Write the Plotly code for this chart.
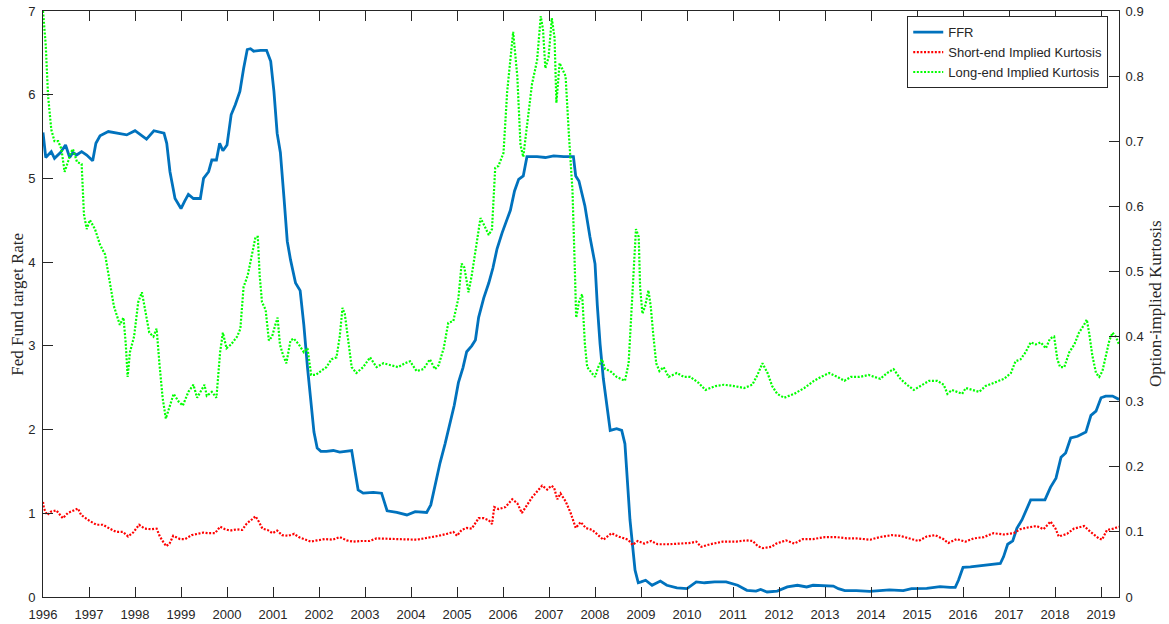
import plotly.graph_objects as go

# ---------------- data (decimal years, values) ----------------
ffr_t = [1996.00,1996.06,1996.18,1996.25,1996.38,1996.49,1996.58,1996.65,1996.73,1996.84,1996.95,1997.08,1997.15,1997.24,1997.42,1997.64,1997.82,1998.00,1998.25,1998.41,1998.63,1998.69,1998.76,1998.87,1999.00,1999.08,1999.16,1999.27,1999.42,1999.49,1999.60,1999.67,1999.77,1999.84,1999.91,2000.00,2000.09,2000.18,2000.28,2000.36,2000.44,2000.51,2000.58,2000.73,2000.86,2000.95,2001.02,2001.09,2001.16,2001.24,2001.31,2001.38,2001.49,2001.59,2001.67,2001.75,2001.82,2001.89,2001.96,2002.04,2002.16,2002.31,2002.45,2002.71,2002.78,2002.85,2002.96,2003.18,2003.36,2003.43,2003.48,2003.69,2003.91,2004.09,2004.34,2004.43,2004.52,2004.63,2004.74,2004.85,2004.94,2005.03,2005.13,2005.21,2005.32,2005.40,2005.47,2005.58,2005.69,2005.78,2005.87,2005.98,2006.09,2006.16,2006.25,2006.34,2006.44,2006.52,2006.74,2006.92,2007.10,2007.32,2007.53,2007.58,2007.65,2007.78,2007.89,2008.00,2008.05,2008.11,2008.18,2008.25,2008.33,2008.47,2008.58,2008.65,2008.71,2008.76,2008.87,2008.94,2009.00,2009.10,2009.24,2009.42,2009.56,2009.78,2010.00,2010.20,2010.38,2010.60,2010.85,2011.10,2011.30,2011.50,2011.60,2011.74,2011.96,2012.18,2012.40,2012.60,2012.74,2013.00,2013.18,2013.29,2013.43,2013.68,2013.97,2014.19,2014.40,2014.70,2014.88,2015.21,2015.50,2015.72,2015.83,2015.90,2016.00,2016.16,2016.45,2016.81,2016.88,2016.97,2017.08,2017.17,2017.28,2017.38,2017.47,2017.78,2017.90,2018.02,2018.13,2018.23,2018.34,2018.49,2018.67,2018.78,2018.89,2019.00,2019.10,2019.25,2019.39]
ffr_v = [5.55,5.25,5.32,5.24,5.31,5.40,5.25,5.31,5.28,5.32,5.28,5.21,5.42,5.51,5.56,5.54,5.52,5.57,5.47,5.57,5.54,5.42,5.08,4.76,4.64,4.73,4.81,4.76,4.76,5.00,5.08,5.22,5.22,5.42,5.33,5.40,5.76,5.88,6.04,6.31,6.54,6.55,6.52,6.53,6.53,6.40,6.04,5.54,5.31,4.76,4.25,4.03,3.75,3.66,3.25,2.74,2.33,1.97,1.78,1.74,1.74,1.75,1.73,1.75,1.51,1.28,1.24,1.25,1.24,1.12,1.03,1.01,0.98,1.02,1.01,1.10,1.33,1.60,1.83,2.10,2.29,2.56,2.74,2.93,3.00,3.07,3.34,3.57,3.75,3.93,4.16,4.35,4.53,4.62,4.85,4.99,5.03,5.26,5.26,5.25,5.27,5.26,5.26,5.03,4.97,4.67,4.30,3.98,3.48,3.02,2.61,2.29,1.99,2.01,1.99,1.83,1.33,0.92,0.32,0.17,0.18,0.20,0.14,0.19,0.14,0.11,0.10,0.18,0.17,0.18,0.18,0.14,0.08,0.07,0.09,0.06,0.07,0.12,0.14,0.12,0.14,0.135,0.13,0.10,0.076,0.076,0.068,0.076,0.084,0.076,0.10,0.104,0.123,0.115,0.115,0.20,0.354,0.36,0.38,0.40,0.48,0.63,0.67,0.82,0.92,1.05,1.16,1.16,1.31,1.42,1.67,1.72,1.90,1.92,1.97,2.17,2.22,2.38,2.40,2.40,2.36]

short_t = [1996.00,1996.02,1996.09,1996.17,1996.29,1996.36,1996.43,1996.54,1996.65,1996.76,1996.83,1997.01,1997.16,1997.30,1997.45,1997.59,1997.74,1997.85,1997.96,1998.09,1998.21,1998.36,1998.47,1998.54,1998.61,1998.68,1998.75,1998.83,1998.98,1999.09,1999.23,1999.38,1999.49,1999.60,1999.74,1999.85,1999.96,2000.07,2000.22,2000.33,2000.43,2000.54,2000.62,2000.69,2000.77,2000.88,2000.99,2001.09,2001.20,2001.33,2001.46,2001.56,2001.67,2001.82,2001.96,2002.13,2002.30,2002.45,2002.60,2002.74,2002.92,2003.10,2003.25,2003.46,2003.67,2004.12,2004.41,2004.60,2004.78,2004.92,2005.00,2005.10,2005.21,2005.32,2005.47,2005.58,2005.69,2005.76,2005.81,2005.90,2006.05,2006.20,2006.31,2006.41,2006.52,2006.63,2006.74,2006.85,2006.96,2007.05,2007.11,2007.18,2007.25,2007.36,2007.47,2007.58,2007.69,2007.80,2007.94,2008.07,2008.18,2008.36,2008.50,2008.72,2008.82,2008.93,2009.07,2009.22,2009.36,2009.58,2009.78,2010.07,2010.20,2010.31,2010.50,2010.78,2011.07,2011.28,2011.43,2011.54,2011.65,2011.83,2011.94,2012.15,2012.33,2012.52,2012.74,2013.00,2013.25,2013.47,2013.68,2013.98,2014.19,2014.45,2014.63,2014.85,2015.03,2015.21,2015.39,2015.57,2015.68,2015.86,2016.05,2016.23,2016.45,2016.66,2016.88,2017.10,2017.24,2017.42,2017.60,2017.75,2017.90,2018.01,2018.08,2018.26,2018.41,2018.63,2018.77,2018.95,2019.02,2019.13,2019.27,2019.39]
short_v = [0.146,0.136,0.126,0.131,0.133,0.127,0.121,0.129,0.133,0.136,0.126,0.117,0.111,0.111,0.105,0.100,0.100,0.093,0.099,0.111,0.105,0.104,0.105,0.093,0.085,0.078,0.082,0.094,0.089,0.089,0.095,0.097,0.099,0.098,0.098,0.108,0.104,0.102,0.104,0.103,0.113,0.119,0.124,0.116,0.105,0.103,0.098,0.102,0.095,0.094,0.097,0.092,0.089,0.085,0.087,0.089,0.088,0.092,0.087,0.085,0.086,0.086,0.090,0.090,0.089,0.088,0.091,0.094,0.097,0.100,0.094,0.103,0.106,0.105,0.121,0.121,0.118,0.112,0.138,0.135,0.138,0.150,0.144,0.129,0.141,0.153,0.162,0.171,0.165,0.171,0.168,0.150,0.159,0.147,0.129,0.106,0.115,0.106,0.103,0.095,0.088,0.098,0.093,0.088,0.080,0.086,0.082,0.086,0.081,0.081,0.082,0.083,0.085,0.077,0.081,0.085,0.085,0.087,0.086,0.078,0.075,0.077,0.082,0.087,0.082,0.089,0.089,0.092,0.092,0.090,0.090,0.088,0.092,0.095,0.094,0.090,0.086,0.093,0.095,0.089,0.083,0.089,0.085,0.090,0.092,0.098,0.096,0.098,0.104,0.107,0.109,0.104,0.116,0.105,0.093,0.097,0.105,0.109,0.100,0.090,0.088,0.103,0.105,0.108]

long_t = [1996.00,1996.06,1996.11,1996.18,1996.25,1996.33,1996.40,1996.47,1996.55,1996.60,1996.65,1996.74,1996.84,1996.89,1996.95,1997.02,1997.13,1997.24,1997.35,1997.45,1997.54,1997.67,1997.75,1997.80,1997.84,1997.89,1997.98,1998.07,1998.15,1998.22,1998.31,1998.40,1998.47,1998.53,1998.60,1998.67,1998.76,1998.84,1998.95,1999.04,1999.16,1999.27,1999.35,1999.45,1999.51,1999.56,1999.67,1999.77,1999.85,1999.91,1999.99,2000.09,2000.22,2000.29,2000.36,2000.45,2000.55,2000.62,2000.67,2000.71,2000.76,2000.84,2000.91,2000.98,2001.05,2001.10,2001.15,2001.22,2001.29,2001.38,2001.45,2001.56,2001.67,2001.75,2001.83,2001.93,2002.04,2002.16,2002.27,2002.38,2002.45,2002.51,2002.56,2002.63,2002.71,2002.81,2002.96,2003.11,2003.25,2003.40,2003.58,2003.72,2003.87,2003.98,2004.12,2004.27,2004.41,2004.52,2004.60,2004.71,2004.81,2004.92,2005.03,2005.10,2005.16,2005.25,2005.32,2005.43,2005.51,2005.59,2005.69,2005.76,2005.83,2005.90,2006.01,2006.09,2006.16,2006.22,2006.31,2006.38,2006.44,2006.49,2006.56,2006.63,2006.74,2006.82,2006.87,2006.92,2006.99,2007.06,2007.12,2007.16,2007.23,2007.30,2007.36,2007.43,2007.51,2007.56,2007.59,2007.65,2007.72,2007.78,2007.83,2007.93,2008.00,2008.07,2008.15,2008.22,2008.33,2008.47,2008.58,2008.65,2008.73,2008.78,2008.84,2008.89,2008.95,2008.98,2009.03,2009.09,2009.16,2009.21,2009.27,2009.33,2009.40,2009.49,2009.60,2009.78,2009.93,2010.07,2010.25,2010.40,2010.62,2010.80,2011.02,2011.24,2011.42,2011.53,2011.64,2011.75,2011.85,2011.96,2012.11,2012.33,2012.55,2012.76,2012.91,2013.09,2013.27,2013.42,2013.56,2013.75,2013.95,2014.09,2014.20,2014.35,2014.49,2014.64,2014.78,2014.93,2015.07,2015.26,2015.44,2015.58,2015.66,2015.76,2015.87,2015.98,2016.06,2016.20,2016.35,2016.49,2016.67,2016.89,2017.04,2017.14,2017.25,2017.36,2017.47,2017.58,2017.69,2017.80,2017.89,2017.98,2018.05,2018.11,2018.20,2018.31,2018.42,2018.52,2018.63,2018.69,2018.74,2018.81,2018.89,2018.96,2019.03,2019.11,2019.18,2019.25,2019.32,2019.39]
long_v = [0.900,0.847,0.770,0.718,0.700,0.700,0.688,0.653,0.670,0.682,0.688,0.668,0.665,0.588,0.565,0.579,0.565,0.541,0.526,0.482,0.447,0.418,0.429,0.388,0.338,0.376,0.400,0.453,0.468,0.441,0.406,0.400,0.412,0.359,0.306,0.274,0.294,0.312,0.300,0.294,0.315,0.326,0.306,0.318,0.326,0.309,0.315,0.306,0.376,0.406,0.382,0.388,0.400,0.412,0.476,0.494,0.529,0.553,0.553,0.494,0.453,0.441,0.394,0.400,0.418,0.429,0.388,0.371,0.359,0.394,0.397,0.388,0.376,0.382,0.341,0.341,0.347,0.353,0.365,0.368,0.400,0.444,0.435,0.400,0.353,0.344,0.353,0.368,0.353,0.359,0.356,0.353,0.359,0.362,0.347,0.350,0.365,0.350,0.356,0.382,0.421,0.424,0.459,0.512,0.506,0.468,0.494,0.541,0.582,0.571,0.556,0.565,0.659,0.662,0.682,0.776,0.829,0.868,0.800,0.694,0.676,0.706,0.741,0.788,0.824,0.892,0.871,0.812,0.829,0.889,0.859,0.759,0.820,0.810,0.800,0.712,0.624,0.506,0.429,0.453,0.465,0.388,0.353,0.344,0.338,0.353,0.365,0.350,0.347,0.338,0.335,0.332,0.359,0.418,0.506,0.565,0.553,0.476,0.435,0.447,0.471,0.447,0.400,0.359,0.347,0.353,0.338,0.344,0.338,0.338,0.329,0.318,0.324,0.326,0.324,0.321,0.326,0.341,0.359,0.344,0.324,0.312,0.306,0.312,0.321,0.332,0.338,0.344,0.338,0.332,0.338,0.338,0.341,0.338,0.335,0.344,0.350,0.335,0.326,0.318,0.324,0.332,0.332,0.326,0.312,0.318,0.315,0.312,0.321,0.318,0.315,0.324,0.329,0.335,0.344,0.362,0.365,0.376,0.391,0.388,0.391,0.382,0.397,0.400,0.365,0.353,0.353,0.376,0.388,0.406,0.418,0.426,0.406,0.371,0.344,0.338,0.347,0.371,0.394,0.406,0.400,0.388]

year_ticks = list(range(1996, 2020))
left_ticks = [0, 1, 2, 3, 4, 5, 6, 7]
right_ticks = [0, 0.1, 0.2, 0.3, 0.4, 0.5, 0.6, 0.7, 0.8, 0.9]
right_labels = ["0", "0.1", "0.2", "0.3", "0.4", "0.5", "0.6", "0.7", "0.8", "0.9"]

AX = "#262626"
TICKFONT = dict(family="Liberation Sans, Arial, sans-serif", size=13, color=AX)

fig = go.Figure()
fig.add_trace(go.Scatter(x=ffr_t, y=ffr_v, mode="lines", name="FFR",
                         line=dict(color="#0072BD", width=2.8), yaxis="y"))
fig.add_trace(go.Scatter(x=short_t, y=short_v, mode="lines", name="Short-end Implied Kurtosis",
                         line=dict(color="#FF0000", width=2.2, dash="2px,1.6px"), yaxis="y2"))
fig.add_trace(go.Scatter(x=long_t, y=long_v, mode="lines", name="Long-end Implied Kurtosis",
                         line=dict(color="#00FF00", width=2.2, dash="2px,1.6px"), yaxis="y2"))

fig.update_layout(
    width=1169, height=624,
    margin=dict(l=43, r=50, t=11, b=27, pad=0),
    paper_bgcolor="white", plot_bgcolor="white",
    showlegend=True,
    legend=dict(x=0.99, y=0.991, xanchor="right", yanchor="top",
                bgcolor="white", bordercolor=AX, borderwidth=1,
                font=dict(family="Liberation Sans, Arial, sans-serif", size=13, color=AX),
                tracegroupgap=0),
    xaxis=dict(range=[1996, 2019.39], tickmode="array", tickvals=year_ticks,
               ticktext=[str(y) for y in year_ticks],
               showline=True, linecolor=AX, linewidth=1, mirror="ticks",
               ticks="inside", ticklen=10, tickcolor=AX, tickwidth=1,
               ticklabelstandoff=5,
               showgrid=False, zeroline=False, tickfont=TICKFONT, automargin=False),
    yaxis=dict(range=[0, 7], tickmode="array", tickvals=left_ticks,
               showline=True, linecolor=AX, linewidth=1,
               ticks="inside", ticklen=10, tickcolor=AX, tickwidth=1,
               ticklabelstandoff=4,
               showgrid=False, zeroline=False, tickfont=TICKFONT, automargin=False),
    yaxis2=dict(range=[0, 0.9], tickmode="array", tickvals=right_ticks, ticktext=right_labels,
                overlaying="y", side="right",
                showline=True, linecolor=AX, linewidth=1,
                ticks="inside", ticklen=10, tickcolor=AX, tickwidth=1,
                ticklabelstandoff=3,
                showgrid=False, zeroline=False, tickfont=TICKFONT, automargin=False),
    annotations=[
        dict(text="Fed Fund target Rate", xref="paper", yref="paper",
             x=-0.0245, y=0.5, xanchor="center", yanchor="middle", textangle=-90,
             showarrow=False,
             font=dict(family="Liberation Serif, Times New Roman, serif", size=17, color=AX)),
        dict(text="Option-implied Kurtosis", xref="paper", yref="paper",
             x=1.0335, y=0.5, xanchor="center", yanchor="middle", textangle=-90,
             showarrow=False,
             font=dict(family="Liberation Serif, Times New Roman, serif", size=17, color=AX)),
    ],
)

fig.write_html("out.html")
